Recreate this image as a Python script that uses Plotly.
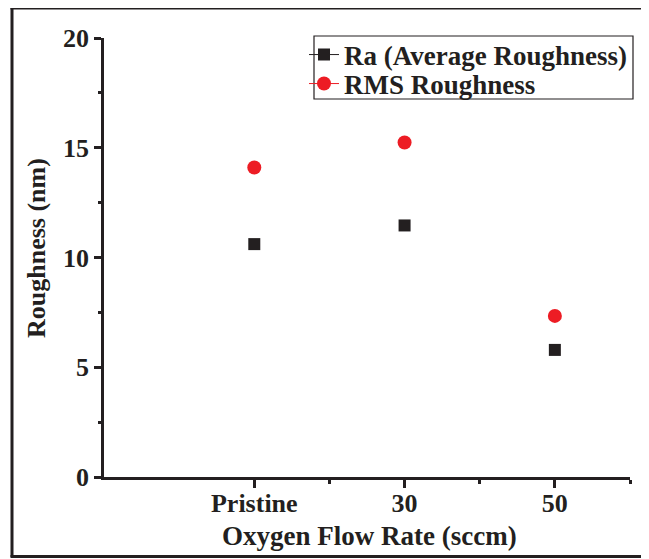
import plotly.graph_objects as go

categories = ["Pristine", "30", "50"]
ra_values = [10.61, 11.46, 5.79]
rms_values = [14.10, 15.24, 7.34]
y_ticks = [0, 5, 10, 15, 20]

xpos = list(range(1, len(categories) + 1))
FONT = "Liberation Serif"
BLACK = "#231f20"
RED = "#ed1c24"

fig = go.Figure()
fig.add_trace(go.Scatter(x=xpos, y=ra_values, mode="markers", showlegend=False,
                         marker=dict(symbol="square", size=12, color=BLACK)))
fig.add_trace(go.Scatter(x=xpos, y=rms_values, mode="markers", showlegend=False,
                         marker=dict(symbol="circle", size=14, color=RED)))
fig.add_trace(go.Scatter(x=[None], y=[None], mode="lines+markers", name="Ra (Average Roughness)",
                         line=dict(color=BLACK, width=1), legend="legend",
                         marker=dict(symbol="square", size=12, color=BLACK)))
fig.add_trace(go.Scatter(x=[None], y=[None], mode="lines+markers", name="RMS Roughness",
                         line=dict(color=RED, width=1), legend="legend2",
                         marker=dict(symbol="circle", size=14, color=RED)))

OFF = 8  # page body margin
W, H = 649 - OFF, 559 - OFF
L, T = 104 - OFF, 38 - OFF
R = W - (630 - OFF)
B = H - (477 - OFF)
pw, ph = W - L - R, H - T - B

def px2paper_x(px):
    return (px - OFF - L) / pw

def px2paper_y(py):
    return (H - B - (py - OFF)) / ph

def legend_at(py):
    return dict(x=px2paper_x(304), y=px2paper_y(py), xanchor="left", yanchor="middle",
                borderwidth=0, bgcolor="rgba(0,0,0,0)",
                font=dict(family=FONT, size=27, color=BLACK, weight="bold"),
                itemwidth=30)

def frame_line(x0, y0, x1, y1):
    return dict(type="line", xref="paper", yref="paper",
                x0=px2paper_x(x0), x1=px2paper_x(x1), y0=px2paper_y(y0), y1=px2paper_y(y1),
                line=dict(color=BLACK, width=3), layer="below")

fig.update_layout(
    width=W, height=H,
    margin=dict(l=L, r=R, t=T, b=B, pad=0),
    paper_bgcolor="white", plot_bgcolor="white",
    font=dict(family=FONT, color=BLACK, size=26, weight="bold"),
    showlegend=True,
    legend=legend_at(55),
    legend2=legend_at(84),
    xaxis=dict(range=[0, 3.5], tickvals=xpos, ticktext=categories,
               showgrid=False, zeroline=False, showline=True, linecolor=BLACK, linewidth=2.5,
               ticks="outside", ticklen=8, tickwidth=2.5, tickcolor=BLACK,
               ticklabelstandoff=-7,
               tickfont=dict(family=FONT, size=26, weight="bold"),
               minor=dict(tickvals=[1.5, 2.5, 3.5], ticks="outside", ticklen=4, tickwidth=2.5,
                          tickcolor=BLACK, showgrid=False)),
    yaxis=dict(range=[0, 20], tickvals=y_ticks,
               showgrid=False, zeroline=False, showline=True, linecolor=BLACK, linewidth=2.5,
               ticks="outside", ticklen=7, tickwidth=2.5, tickcolor=BLACK,
               tickfont=dict(family=FONT, size=26, weight="bold"),
               minor=dict(dtick=2.5, ticks="outside", ticklen=3, tickwidth=2.5,
                          tickcolor=BLACK, showgrid=False)),
    annotations=[
        dict(text="Oxygen Flow Rate (sccm)", xref="paper", yref="paper",
             x=px2paper_x(369), y=px2paper_y(536), xanchor="center", yanchor="middle",
             showarrow=False, font=dict(family=FONT, size=27, color=BLACK, weight="bold")),
        dict(text="Roughness (nm)", xref="paper", yref="paper", textangle=-90,
             x=px2paper_x(37), y=px2paper_y(248), xanchor="center", yanchor="middle",
             showarrow=False, font=dict(family=FONT, size=26, color=BLACK, weight="bold")),
    ],
    shapes=[
        frame_line(12, 6.5, 12, 557),
        frame_line(10.5, 8, 649, 8),
        frame_line(10.5, 556.5, 649, 556.5),
        dict(type="rect", xref="paper", yref="paper",
             x0=px2paper_x(314), x1=px2paper_x(633), y0=px2paper_y(99), y1=px2paper_y(36),
             line=dict(color=BLACK, width=1.2), fillcolor="white", layer="above"),
    ],
)

fig.write_html("out.html")
